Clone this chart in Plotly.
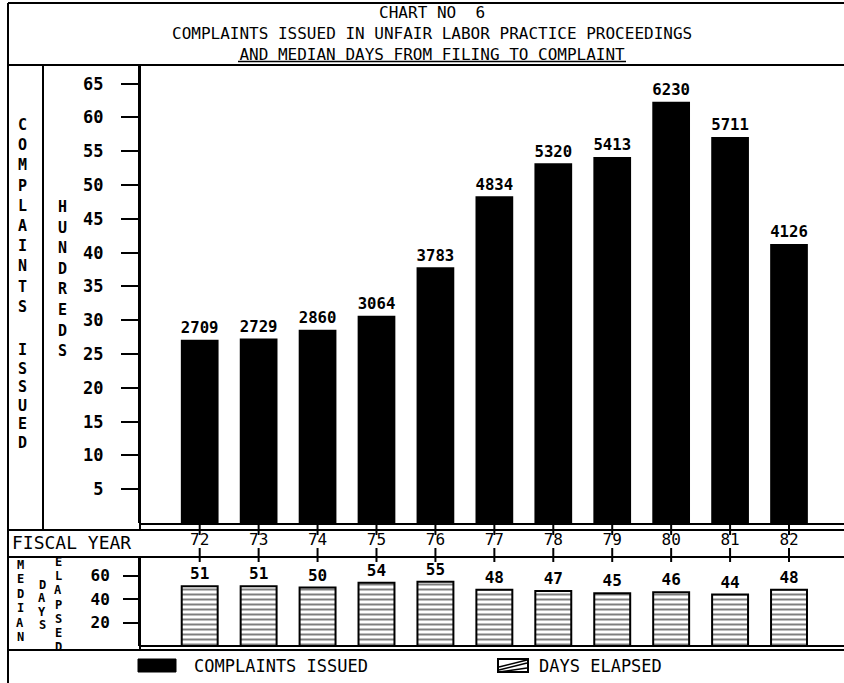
import plotly.graph_objects as go

# ---------------- data ----------------
fiscal_years = ["72", "73", "74", "75", "76", "77", "78", "79", "80", "81", "82"]
complaints_issued = [2709, 2729, 2860, 3064, 3783, 4834, 5320, 5413, 6230, 5711, 4126]
median_days = [51, 51, 50, 54, 55, 48, 47, 45, 46, 44, 48]
hundreds_ticks = [5, 10, 15, 20, 25, 30, 35, 40, 45, 50, 55, 60, 65]
days_ticks = [20, 40, 60]

W, H = 844, 683
FONT = "DejaVu Sans Mono"


def px(x):
    return x / W


def py(y):
    return 1 - y / H


fig = go.Figure()

# top panel bars (in hundreds)
fig.add_trace(go.Bar(
    x=fiscal_years,
    y=[v / 100 for v in complaints_issued],
    text=[str(v) for v in complaints_issued],
    textposition="outside",
    textfont=dict(family=FONT, size=17, color="black", weight="bold"),
    marker=dict(color="black", line=dict(width=0)),
    width=0.64,
    cliponaxis=False,
    xaxis="x", yaxis="y",
    name="COMPLAINTS ISSUED",
))

# bottom panel bars (median days)
fig.add_trace(go.Bar(
    x=fiscal_years,
    y=median_days,
    text=[str(v) for v in median_days],
    textposition="outside",
    textfont=dict(family=FONT, size=16, color="black", weight="bold"),
    marker=dict(color="white",
                line=dict(color="black", width=2),
                pattern=dict(shape="-", fgcolor="black", bgcolor="white",
                             size=5, solidity=0.4)),
    width=0.61,
    cliponaxis=False,
    xaxis="x2", yaxis="y2",
    name="DAYS ELAPSED",
))

xr = [-1.013, 10.933]
fig.update_layout(
    width=W, height=H,
    margin=dict(l=0, r=0, t=0, b=0),
    paper_bgcolor="white", plot_bgcolor="white",
    showlegend=False,
    font=dict(family=FONT, color="black"),
    xaxis=dict(domain=[px(140), 1], range=xr, anchor="y",
               showticklabels=False, ticks="", showline=False,
               showgrid=False, zeroline=False, fixedrange=True),
    yaxis=dict(domain=[py(523), py(64)], range=[0, (523 - 64) / 6.76],
               anchor="x", tickvals=hundreds_ticks,
               ticks="outside", ticklen=17, tickwidth=2, tickcolor="black",
               ticklabelstandoff=14,
               tickfont=dict(family=FONT, size=17, color="black", weight="bold"),
               showline=True, linewidth=2, linecolor="black",
               showgrid=False, zeroline=False),
    xaxis2=dict(domain=[px(140), 1], range=xr, anchor="y2", side="top",
                ticks="", showline=False, showgrid=False, zeroline=False,
                ticklabelstandoff=8,
                tickfont=dict(family=FONT, size=16, color="black")),
    yaxis2=dict(domain=[py(646), py(557)], range=[0, (646 - 557) / 1.17],
                anchor="x2", tickvals=days_ticks,
                ticks="outside", ticklen=15, tickwidth=2, tickcolor="black",
                ticklabelstandoff=10,
                tickfont=dict(family=FONT, size=16, color="black", weight="bold"),
                showline=True, linewidth=2, linecolor="black",
                showgrid=False, zeroline=False),
)

shapes = []


def hline(y, x0, x1, w=2):
    shapes.append(dict(type="line", xref="paper", yref="paper",
                       x0=px(x0), x1=px(x1), y0=py(y), y1=py(y),
                       line=dict(color="black", width=w)))


def vline(x, y0, y1, w=2):
    shapes.append(dict(type="line", xref="paper", yref="paper",
                       x0=px(x), x1=px(x), y0=py(y0), y1=py(y1),
                       line=dict(color="black", width=w)))


# frame and dividers
hline(3, 8, 844)
vline(8, 3, 683)
hline(65, 8, 844)
hline(61.5, 238, 626, 1.5)  # title underline
vline(43, 65, 530)
vline(140, 65, 530)
hline(524, 140, 844)
hline(530, 8, 844)
hline(557, 8, 844)
vline(140, 557, 650)
hline(646, 140, 844)
hline(650, 8, 844)

# fiscal year tick marks through the year row
for i, _ in enumerate(fiscal_years):
    for (a, b) in [(524, 535), (548, 562)]:
        shapes.append(dict(type="line", xref="x2", yref="paper",
                           x0=i, x1=i, y0=py(a), y1=py(b),
                           line=dict(color="black", width=2)))

# legend swatches
shapes.append(dict(type="rect", xref="paper", yref="paper",
                   x0=px(138), x1=px(176), y0=py(672), y1=py(659),
                   fillcolor="black", line=dict(color="black", width=1)))
shapes.append(dict(type="rect", xref="paper", yref="paper",
                   x0=px(498), x1=px(528), y0=py(672), y1=py(659),
                   fillcolor="white", line=dict(color="black", width=2)))
for (ya, yb) in [(670, 663), (667, 660), (672, 668)]:
    shapes.append(dict(type="line", xref="paper", yref="paper",
                       x0=px(499), x1=px(527), y0=py(ya), y1=py(yb),
                       line=dict(color="black", width=1.5)))

fig.update_layout(shapes=shapes)

ann = []


def text(x, y, s, size=17, xanchor="center", weight="normal"):
    ann.append(dict(xref="paper", yref="paper", x=px(x), y=py(y), text=s,
                    showarrow=False, xanchor=xanchor, yanchor="middle",
                    font=dict(family=FONT, size=size, color="black", weight=weight)))


# titles (one block, three lines)
text(432, 33.5,
     "CHART NO  6<br>COMPLAINTS ISSUED IN UNFAIR LABOR PRACTICE PROCEEDINGS"
     "<br>AND MEDIAN DAYS FROM FILING TO COMPLAINT", 16)

# vertical stacked labels
for k, ch in enumerate("COMPLAINTS"):
    text(22, 125 + k * 20.2, ch, 15, weight="bold")
for k, ch in enumerate("ISSUED"):
    text(22, 350 + k * 18.5, ch, 15, weight="bold")
for k, ch in enumerate("HUNDREDS"):
    text(63, 207 + k * 20.6, ch, 15, weight="bold")
for k, ch in enumerate("MEDIAN"):
    text(20, 565 + k * 14.4, ch, 12, weight="bold")
for k, ch in enumerate("DAYS"):
    text(42, 585 + k * 13.3, ch, 12, weight="bold")
for k, ch in enumerate("ELAPSED"):
    text(58, 562 + k * 14.2, ch, 12, weight="bold")

text(10, 542, "FISCAL YEAR", 18, xanchor="left")

# legend texts
text(192, 666, "COMPLAINTS ISSUED", 17, xanchor="left")
text(537, 666, "DAYS ELAPSED", 17, xanchor="left")

fig.update_layout(annotations=ann)

fig.write_html(
    "out.html",
    config={"displayModeBar": False},
    post_script="document.body.style.margin='0px';"
                "document.documentElement.style.overflow='hidden';",
)
